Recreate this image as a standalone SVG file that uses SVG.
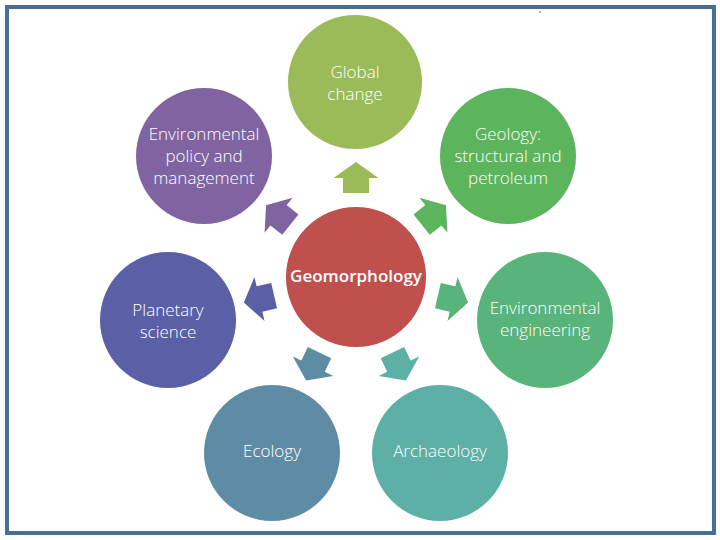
<svg xmlns="http://www.w3.org/2000/svg" width="720" height="540" viewBox="0 0 720 540">
<style>
.lbl{font-family:"Open Sans","Noto Sans","DejaVu Sans",sans-serif;font-weight:300;font-size:17px;fill:#ffffff;text-anchor:middle}
.ctr{font-family:"Open Sans","Noto Sans","DejaVu Sans",sans-serif;font-weight:600;font-size:17px;fill:#ffffff;text-anchor:middle}
</style>
<defs>
<path id="arr" d="M16,0 L0,-22.5 L0,-13 L-15,-13 L-15,13 L0,13 L0,22.5 Z"/>
</defs>
<rect x="0" y="0" width="720" height="540" fill="#ffffff"/>
<rect x="7" y="7" width="707" height="526" fill="none" stroke="#4a6f96" stroke-width="4"/>
<circle cx="540" cy="12" r="0.8" fill="#555555"/>
<g id="connectors">
<use href="#arr" fill="#9bbb59" transform="translate(356,277) rotate(-90) translate(99,0)"/>
<use href="#arr" fill="#5cb45c" transform="translate(356,277) rotate(-38.57) translate(99,0)"/>
<use href="#arr" fill="#58b47b" transform="translate(356,277) rotate(12.86) translate(99,0)"/>
<use href="#arr" fill="#5cb0a6" transform="translate(356,277) rotate(64.29) translate(99,0)"/>
<use href="#arr" fill="#5f8ca5" transform="translate(356,277) rotate(115.71) translate(99,0)"/>
<use href="#arr" fill="#5a5fa6" transform="translate(356,277) rotate(167.14) translate(99,0)"/>
<use href="#arr" fill="#8064a2" transform="translate(356,277) rotate(218.57) translate(99,0)"/>
</g>
<g id="geomorphology">
<circle cx="356" cy="277" r="70" fill="#c0504d"/>
<text class="ctr" x="356" y="282">Geomorphology</text>
</g>
<g id="global-change">
<circle cx="355" cy="82" r="67" fill="#9bbb59"/>
<text class="lbl" x="355" y="78">Global</text>
<text class="lbl" x="355" y="100">change</text>
</g>
<g id="geology">
<circle cx="508" cy="156" r="68" fill="#5cb45c"/>
<text class="lbl" x="508" y="140">Geology:</text>
<text class="lbl" x="508" y="162">structural and</text>
<text class="lbl" x="508" y="184">petroleum</text>
</g>
<g id="environmental-engineering">
<circle cx="545" cy="320" r="68" fill="#58b47b"/>
<text class="lbl" x="545" y="314">Environmental</text>
<text class="lbl" x="545" y="336">engineering</text>
</g>
<g id="archaeology">
<circle cx="440" cy="453" r="68" fill="#5cb0a6"/>
<text class="lbl" x="440" y="457">Archaeology</text>
</g>
<g id="ecology">
<circle cx="272" cy="453" r="68" fill="#5f8ca5"/>
<text class="lbl" x="272" y="457">Ecology</text>
</g>
<g id="planetary-science">
<circle cx="168" cy="320" r="68" fill="#5a5fa6"/>
<text class="lbl" x="168" y="316">Planetary</text>
<text class="lbl" x="168" y="338">science</text>
</g>
<g id="environmental-policy">
<circle cx="204" cy="156" r="68" fill="#8064a2"/>
<text class="lbl" x="204" y="140">Environmental</text>
<text class="lbl" x="204" y="162">policy and</text>
<text class="lbl" x="204" y="184">management</text>
</g>
</svg>
